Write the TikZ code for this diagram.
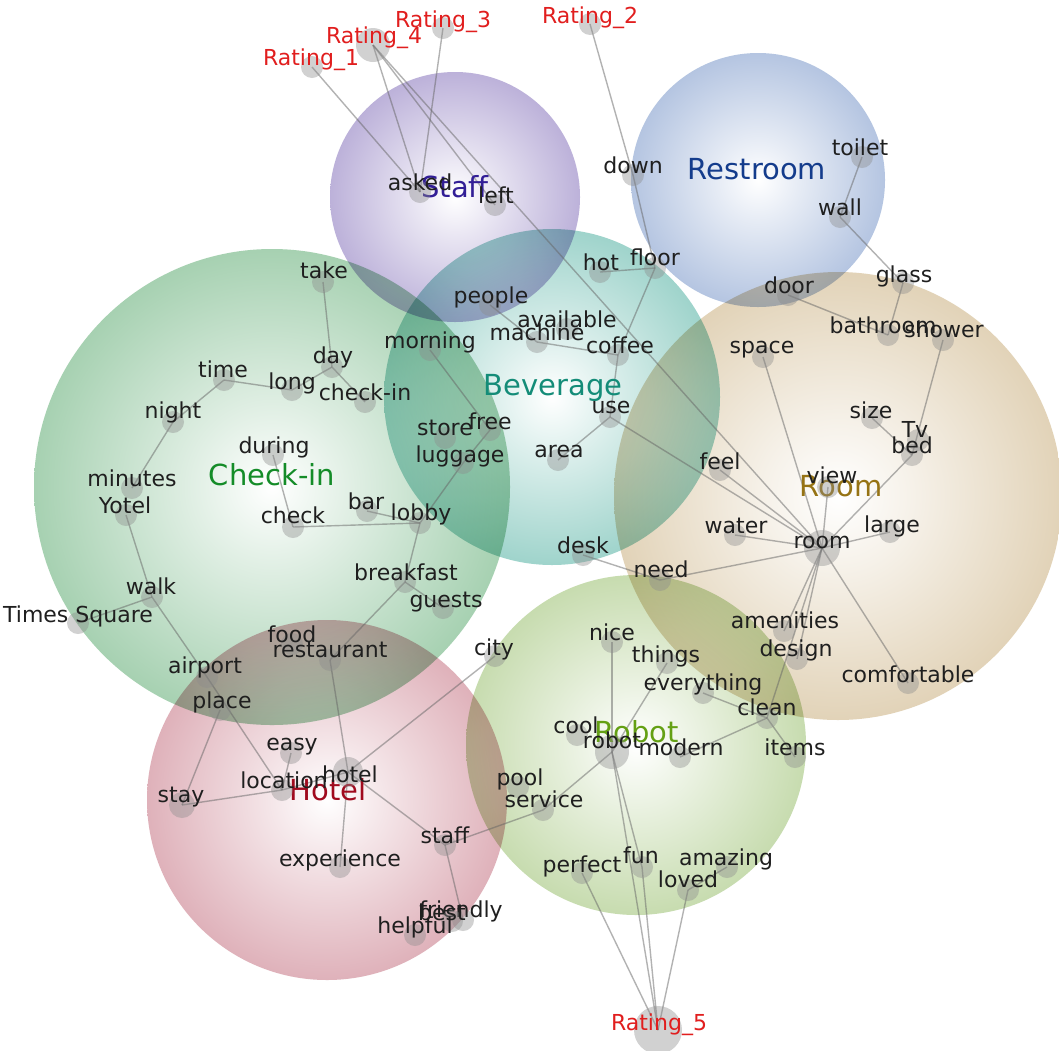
\documentclass[tikz,border=0pt]{standalone}
\usepackage{fontspec}
\setmainfont{DejaVu Sans}
\pgfdeclarelayer{bg}
\pgfdeclarelayer{edges}
\pgfsetlayers{bg,edges,main}
\definecolor{cStaff}{RGB}{132,112,186}
\definecolor{cRest}{RGB}{118,148,200}
\definecolor{cBev}{RGB}{78,175,160}
\definecolor{cCheck}{RGB}{92,170,112}
\definecolor{cRoom}{RGB}{196,166,112}
\definecolor{cRobot}{RGB}{152,190,108}
\definecolor{cHotel}{RGB}{196,112,128}
\definecolor{tStaff}{RGB}{50,30,150}
\definecolor{tRest}{RGB}{20,60,140}
\definecolor{tBev}{RGB}{20,140,120}
\definecolor{tCheck}{RGB}{20,140,40}
\definecolor{tRoom}{RGB}{150,115,20}
\definecolor{tRobot}{RGB}{100,160,20}
\definecolor{tHotel}{RGB}{160,10,30}
\definecolor{tRating}{RGB}{225,30,30}
\pgfdeclareradialshading{shStaff}{\pgfpointorigin}{color(0bp)=(white); color(8bp)=(white!82!cStaff); color(30bp)=(white!35!cStaff); color(50bp)=(cStaff)}
\pgfdeclareradialshading{shRest}{\pgfpointorigin}{color(0bp)=(white); color(8bp)=(white!82!cRest); color(30bp)=(white!35!cRest); color(50bp)=(cRest)}
\pgfdeclareradialshading{shBev}{\pgfpointorigin}{color(0bp)=(white); color(8bp)=(white!82!cBev); color(30bp)=(white!35!cBev); color(50bp)=(cBev)}
\pgfdeclareradialshading{shCheck}{\pgfpointorigin}{color(0bp)=(white); color(8bp)=(white!82!cCheck); color(30bp)=(white!35!cCheck); color(50bp)=(cCheck)}
\pgfdeclareradialshading{shRoom}{\pgfpointorigin}{color(0bp)=(white); color(8bp)=(white!85!cRoom); color(30bp)=(white!40!cRoom); color(50bp)=(cRoom)}
\pgfdeclareradialshading{shRobot}{\pgfpointorigin}{color(0bp)=(white); color(8bp)=(white!82!cRobot); color(30bp)=(white!35!cRobot); color(50bp)=(cRobot)}
\pgfdeclareradialshading{shHotel}{\pgfpointorigin}{color(0bp)=(white); color(8bp)=(white!82!cHotel); color(30bp)=(white!35!cHotel); color(50bp)=(cHotel)}
\tikzset{
  dotn/.style={circle, inner sep=0pt, fill=black!45, fill opacity=0.4, draw=none},
  wlabel/.style={anchor=base, inner sep=0pt, font=\fontsize{22}{26}\selectfont, text=black!88},
  rlabel/.style={wlabel, text=tRating},
  clabel/.style={anchor=base, inner sep=0pt, font=\fontsize{29}{34}\selectfont},
  link/.style={draw=black!60, line width=1.4pt, draw opacity=0.5},
  blob/.style={blend mode=multiply}
}
\newcommand\wordnode[7][22]{\node[dotn, minimum size=#1pt] (#2) at (#3,#4) {};
  \node[wlabel] (#2-t) at (#5,#6) {#7};}
\newcommand\ratingnode[7][22]{\node[dotn, minimum size=#1pt] (#2) at (#3,#4) {};
  \node[rlabel] (#2-t) at (#5,#6) {#7};}
\begin{document}
\begin{tikzpicture}[x=1pt,y=-1pt]
\useasboundingbox (0,0) rectangle (1059,1050);
\begin{pgfonlayer}{bg}
\fill[white] (0,0) rectangle (1059,1050);
\shade[shading=shCheck, blob] (272,487) circle (238);
\shade[shading=shHotel, blob] (327,800) circle (180);
\shade[shading=shStaff, blob] (455,197) circle (125);
\shade[shading=shRest, blob] (758,180) circle (127);
\shade[shading=shBev, blob] (552,397) circle (168);
\shade[shading=shRoom, blob] (838,496) circle (224);
\shade[shading=shRobot, blob] (636,745) circle (170);
\end{pgfonlayer}
% cluster labels
\node[clabel, text=tStaff] (Lstaff) at (455,197) {Staff};
\node[clabel, text=tRest] (Lrest) at (757,179) {Restroom};
\node[clabel, text=tBev] (Lbev) at (553,395) {Beverage};
\node[clabel, text=tCheck] (Lcheck) at (272,485) {Check-in};
\node[clabel, text=tRoom] (Lroom) at (841,496) {Room};
\node[clabel, text=tRobot] (Lrobot) at (637,742) {Robot};
\node[clabel, text=tHotel] (Lhotel) at (328,800) {Hotel};
% ratings
\ratingnode{R1}{312}{67}{311}{65}{Rating\_1}
\ratingnode[34]{R4}{373}{45}{374}{43}{Rating\_4}
\ratingnode{R3}{443}{28}{443}{27}{Rating\_3}
\ratingnode{R2}{590}{24}{590}{23}{Rating\_2}
\ratingnode[48]{R5}{658}{1030}{659}{1030}{Rating\_5}
% staff
\wordnode{asked}{420}{192}{420}{190}{asked}
\wordnode{left}{495}{205}{496}{203}{left}
% restroom
\wordnode{down}{633}{175}{633}{173}{down}
\wordnode{toilet}{862}{157}{860}{155}{toilet}
\wordnode{wall}{840}{217}{840}{215}{wall}
\wordnode{glass}{903}{283}{904}{282}{glass}
\wordnode{door}{788}{295}{789}{293}{door}
\wordnode{bathroom}{888}{335}{883}{333}{bathroom}
\wordnode{shower}{943}{340}{944}{337}{shower}
% beverage
\wordnode{hot}{600}{272}{601}{270}{hot}
\wordnode{floor}{655}{268}{655}{265}{floor}
\wordnode{people}{490}{305}{491}{303}{people}
\wordnode{available}{567}{329}{567}{327}{available}
\wordnode{machine}{537}{342}{537}{340}{machine}
\wordnode{coffee}{618}{355}{620}{353}{coffee}
\wordnode{morning}{430}{350}{430}{348}{morning}
\wordnode{use}{610}{417}{611}{413}{use}
\wordnode{store}{445}{438}{445}{435}{store}
\wordnode{free}{490}{430}{490}{429}{free}
\wordnode{luggage}{463}{463}{460}{462}{luggage}
\wordnode{area}{558}{460}{559}{457}{area}
% check-in
\wordnode{take}{323}{282}{324}{278}{take}
\wordnode{day}{332}{367}{333}{363}{day}
\wordnode{time}{224}{380}{223}{377}{time}
\wordnode{long}{292}{390}{292}{389}{long}
\wordnode{checkin}{365}{402}{365}{400}{check-in}
\wordnode{night}{173}{422}{173}{418}{night}
\wordnode{during}{273}{455}{274}{453}{during}
\wordnode{minutes}{132}{488}{132}{486}{minutes}
\wordnode{yotel}{126}{515}{125}{513}{Yotel}
\wordnode{check}{293}{527}{293}{523}{check}
\wordnode{bar}{367}{511}{366}{509}{bar}
\wordnode{lobby}{420}{523}{421}{520}{lobby}
\wordnode{breakfast}{405}{582}{406}{580}{breakfast}
\wordnode{guests}{443}{608}{446}{607}{guests}
\wordnode{walk}{152}{597}{151}{594}{walk}
\wordnode{times}{78}{623}{78}{622}{Times Square}
\wordnode{food}{292}{644}{292}{642}{food}
\wordnode{restaurant}{330}{660}{330}{657}{restaurant}
\wordnode{airport}{207}{677}{205}{673}{airport}
\wordnode{city}{495}{656}{494}{655}{city}
% hotel
\wordnode{place}{220}{710}{222}{708}{place}
\wordnode{easy}{291}{753}{292}{750}{easy}
\wordnode{location}{282}{790}{284}{788}{location}
\wordnode[30]{hotel}{348}{772}{350}{782}{hotel}
\wordnode[26]{stay}{182}{805}{181}{802}{stay}
\wordnode{staff}{445}{845}{445}{843}{staff}
\wordnode{experience}{340}{867}{340}{866}{experience}
\wordnode{friendly}{463}{920}{461}{917}{friendly}
\wordnode{best}{452}{921}{442}{920}{best}
\wordnode{helpful}{415}{935}{415}{933}{helpful}
% robot
\wordnode{nice}{612}{642}{612}{640}{nice}
\wordnode{things}{667}{663}{666}{662}{things}
\wordnode{everything}{703}{693}{703}{690}{everything}
\wordnode{clean}{767}{718}{767}{715}{clean}
\wordnode{cool}{577}{735}{576}{733}{cool}
\wordnode[34]{robot}{612}{752}{612}{748}{robot}
\wordnode{modern}{680}{757}{681}{755}{modern}
\wordnode{items}{795}{757}{795}{755}{items}
\wordnode{pool}{518}{787}{520}{785}{pool}
\wordnode{service}{543}{810}{544}{807}{service}
\wordnode{perfect}{582}{873}{582}{872}{perfect}
\wordnode{fun}{642}{867}{641}{863}{fun}
\wordnode{amazing}{727}{867}{726}{865}{amazing}
\wordnode{loved}{688}{890}{688}{887}{loved}
% room
\wordnode{space}{763}{357}{762}{353}{space}
\wordnode{size}{872}{418}{871}{418}{size}
\wordnode{tv}{918}{440}{915}{437}{Tv}
\wordnode{bed}{912}{455}{912}{453}{bed}
\wordnode{feel}{720}{470}{720}{469}{feel}
\wordnode{view}{828}{487}{832}{483}{view}
\wordnode{water}{735}{535}{736}{533}{water}
\wordnode{large}{890}{532}{892}{532}{large}
\wordnode[36]{room}{822}{548}{822}{548}{room}
\wordnode{need}{660}{580}{661}{577}{need}
\wordnode{desk}{583}{555}{583}{553}{desk}
\wordnode{amenities}{784}{631}{785}{628}{amenities}
\wordnode{design}{797}{659}{796}{656}{design}
\wordnode{comfortable}{908}{683}{908}{682}{comfortable}
\begin{pgfonlayer}{edges}
\foreach \a/\b in {R1/asked, R4/asked, R3/asked, R4/left, R4/room, R2/down,
  down/floor, hot/floor, floor/coffee, coffee/use, machine/coffee, people/machine,
  use/area, use/room, feel/room, morning/free, free/luggage, luggage/lobby,
  bar/lobby, check/lobby, during/check, lobby/breakfast, breakfast/guests,
  breakfast/restaurant, restaurant/hotel, hotel/city, hotel/location,
  easy/location, location/stay, place/stay, airport/location, walk/airport,
  walk/times, yotel/walk, minutes/night, night/time, time/long, long/day,
  day/take, day/checkin, hotel/staff, hotel/experience, staff/friendly,
  staff/service, service/robot, robot/nice, robot/things, everything/clean,
  modern/clean, clean/items, robot/fun, fun/R5, robot/R5, perfect/R5,
  loved/R5, amazing/loved, space/room, view/room, bed/room, size/bed,
  shower/bed, water/room, large/room, room/amenities, room/design,
  room/clean, room/comfortable, need/room, desk/need, toilet/wall,
  wall/glass, glass/bathroom, door/bathroom}
  \draw[link] (\a.center) -- (\b.center);
\end{pgfonlayer}
\end{tikzpicture}
\end{document}
